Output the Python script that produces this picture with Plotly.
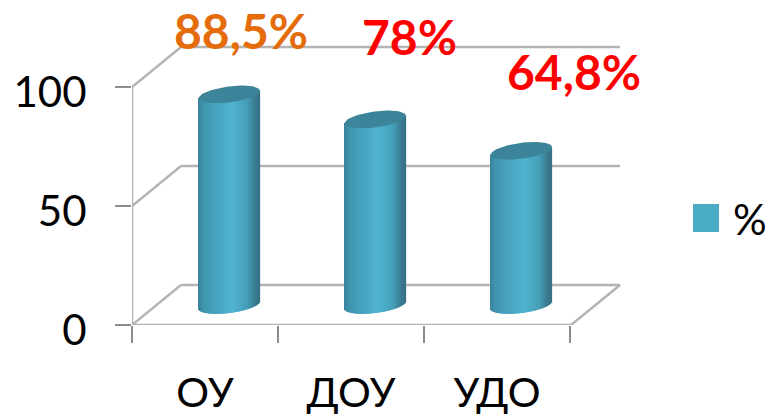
import numpy as np
import plotly.graph_objects as go

categories = ["ОУ", "ДОУ", "УДО"]
values = [88.5, 78, 64.8]
value_labels = ["88,5%", "78%", "64,8%"]
label_colors = ["#E46C0A", "#FF0000", "#FF0000"]
series_name = "%"
y_ticks = [0, 50, 100]

W, H = 774, 418
L, R, T, B = 132, 625, 28, 325
PX_PER_CAT = 146.0
PX_PER_UNIT = 2.38
x0_px = 205.0
FONT = "Lato"
WALL = "#B4B4B4"
TICK = "#8C8C8C"


def dx(p):
    return p / PX_PER_CAT


def dy(p):
    return p / PX_PER_UNIT


x_range = [(L - x0_px) / PX_PER_CAT, (R - x0_px) / PX_PER_CAT]
y_range = [0, (B - T) / PX_PER_UNIT]

# oblique depth of the chart box
DEPTH_X, DEPTH_Y = 49, 40
CYL_SHIFT = 24.5
RX, RY, TILT = 30.5, 8.0, 0.12
BASE_PX = 20.0  # cylinder base centre above the front floor edge

stops = [(0.0, (58, 130, 155)), (0.10, (64, 150, 177)), (0.55, (80, 180, 208)),
         (0.80, (70, 160, 186)), (0.93, (58, 125, 148)), (1.0, (56, 112, 134))]


def strip_colour(f):
    p = [s[0] for s in stops]
    return "rgb(%d,%d,%d)" % tuple(np.interp(f, p, [s[1][k] for s in stops]) for k in range(3))


sx, sbase, sh, sw, sc = [], [], [], [], []
N = 61
for i, v in enumerate(values):
    for j in range(N):
        f = (j + 0.5) / N
        off = (f * 2 - 1) * RX
        arc = RY * np.sqrt(max(0, 1 - (off / RX) ** 2))
        sx.append(i + dx(CYL_SHIFT + off))
        sbase.append(dy(BASE_PX - arc + TILT * off))
        sh.append(v + dy(arc))
        sw.append(dx(2 * RX / N * 1.25))
        sc.append(strip_colour(f))

fig = go.Figure()
fig.add_trace(go.Bar(x=sx, y=sh, base=sbase, width=sw, marker=dict(color=sc, line_width=0),
                     showlegend=False, hoverinfo="skip", name=series_name))

for i, v in enumerate(values):
    t = np.linspace(0, 2 * np.pi, 80)
    ox = RX * np.cos(t)
    oy = RY * np.sin(t) + TILT * ox
    fig.add_trace(go.Scatter(x=i + dx(CYL_SHIFT + ox), y=dy(BASE_PX) + v + dy(oy), mode="lines",
                             fill="toself", fillcolor="#3B8499", line=dict(width=0),
                             showlegend=False, hoverinfo="skip"))

shapes = []


def seg(x1, y1, x2, y2):
    shapes.append(dict(type="line", xref="x", yref="y", layer="below", x0=x_range[0] + dx(x1), x1=x_range[0] + dx(x2),
                       y0=y1, y1=y2, line=dict(color=WALL, width=2.5)))


top = y_ticks[-1]
wall_w = 439  # front floor edge length
for yv in y_ticks:
    seg(0, yv, DEPTH_X, yv + dy(DEPTH_Y))
    seg(DEPTH_X, yv + dy(DEPTH_Y), DEPTH_X + wall_w, yv + dy(DEPTH_Y))
seg(0, 0, 0, top)
seg(0, 0, wall_w, 0)
seg(wall_w, 0, wall_w + DEPTH_X, dy(DEPTH_Y))
fig.update_layout(shapes=shapes)

# legend swatch, in paper coordinates of the plot area
pw, ph = R - L, B - T
fig.add_shape(type="rect", xref="paper", yref="paper", x0=(693 - L) / pw, x1=(719 - L) / pw,
              y0=(B - 232) / ph, y1=(B - 204) / ph, fillcolor="#4BACC6", line_width=0)

anns = [dict(xref="paper", yref="paper", x=(731 - L) / pw, y=(B - 219) / ph, text=series_name,
             showarrow=False, xanchor="left", yanchor="middle", font=dict(family=FONT, size=42, color="#000"))]
label_shift = [(11, 64), (34, 83), (52, 79)]
for i, v in enumerate(values):
    anns.append(dict(x=i + dx(CYL_SHIFT), y=v + dy(BASE_PX), text="<b>%s</b>" % value_labels[i], showarrow=False,
                     xshift=label_shift[i][0], yshift=label_shift[i][1], xanchor="center", yanchor="middle",
                     font=dict(family=FONT, size=48, color=label_colors[i])))

fig.update_layout(
    template="none",
    annotations=anns,
    width=W, height=H, autosize=False,
    margin=dict(l=L, r=W - R, t=T, b=H - B, pad=0),
    paper_bgcolor="white", plot_bgcolor="white",
    barmode="overlay", showlegend=False,
    font=dict(family=FONT, color="#000"),
    xaxis=dict(range=x_range, tickvals=list(range(len(categories))), ticktext=categories, automargin=False,
               ticks="", showgrid=False, zeroline=False, showline=False,
               tickfont=dict(family=FONT, size=41), ticklabelstandoff=40,
               minor=dict(tickvals=[-0.5, 0.5, 1.5, 2.5], ticks="outside", ticklen=17, tickwidth=1.5,
                          tickcolor=TICK, showgrid=False)),
    yaxis=dict(range=y_range, tickvals=y_ticks, ticks="outside", ticklen=16, tickwidth=2, tickcolor=TICK,
               showgrid=False, zeroline=False, showline=False, automargin=False,
               tickfont=dict(family=FONT, size=42), ticklabelstandoff=20, ticklabelshift=5),
)

fig.write_html("out.html", config={"displayModeBar": False},
               post_script="document.body.style.margin='0';document.body.style.overflow='hidden';")
